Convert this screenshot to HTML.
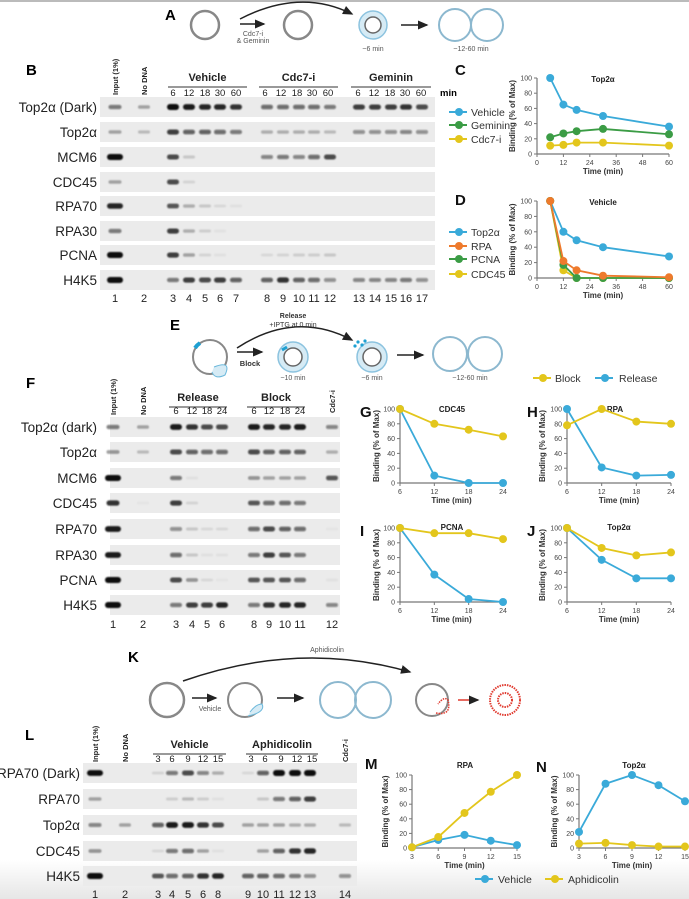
<!DOCTYPE html>
<html><head><meta charset="utf-8"><style>
html,body{margin:0;padding:0;background:#fff;}
svg{display:block;font-family:"Liberation Sans",Arial,sans-serif;}
</style></head><body>
<svg id="fig" width="689" height="899" viewBox="0 0 689 899" xmlns="http://www.w3.org/2000/svg">
<defs>
<linearGradient id="bot" x1="0" y1="0" x2="0" y2="1"><stop offset="0" stop-color="#fff"/><stop offset="1" stop-color="#e6e6e6"/></linearGradient>
<marker id="ah" markerWidth="8" markerHeight="8" refX="6" refY="3" orient="auto"><path d="M0,0 L7,3 L0,6 z" fill="#222"/></marker>
<filter id="blur" x="-20%" y="-100%" width="140%" height="300%"><feGaussianBlur stdDeviation="0.7"/></filter>
</defs>
<rect x="0" y="0" width="689" height="2" fill="#bbb"/>
<rect x="0" y="860" width="689" height="39" fill="url(#bot)"/>
<g id="diagrams">
<text x="165" y="20" font-size="15" font-weight="bold">A</text>
<circle cx="205" cy="25" r="14" fill="none" stroke="#888" stroke-width="2.5"/>
<line x1="240" y1="24" x2="264" y2="24" stroke="#222" stroke-width="1.5" marker-end="url(#ah)"/>
<text x="253" y="36" font-size="7" fill="#555" text-anchor="middle">Cdc7-i</text>
<text x="253" y="43" font-size="7" fill="#555" text-anchor="middle">&amp; Geminin</text>
<circle cx="298" cy="25" r="14" fill="none" stroke="#888" stroke-width="2.5"/>
<path d="M240,19 Q300,-12 352,14" fill="none" stroke="#222" stroke-width="1.5" marker-end="url(#ah)"/>
<circle cx="373" cy="25" r="14" fill="#d6ebf5" stroke="#8cc3df" stroke-width="1.5"/>
<circle cx="373" cy="25" r="8" fill="#fff" stroke="#666" stroke-width="1.5"/>
<text x="373" y="51" font-size="7" fill="#555" text-anchor="middle">~6 min</text>
<line x1="401" y1="25" x2="427" y2="25" stroke="#222" stroke-width="1.5" marker-end="url(#ah)"/>
<circle cx="455" cy="25" r="16" fill="none" stroke="#8cb8cf" stroke-width="2"/>
<circle cx="487" cy="25" r="16" fill="none" stroke="#8cb8cf" stroke-width="2"/>
<text x="471" y="51" font-size="7" fill="#555" text-anchor="middle">~12-60 min</text>
<text x="170" y="330" font-size="15" font-weight="bold">E</text>
<circle cx="210" cy="357" r="17" fill="none" stroke="#888" stroke-width="2"/>
<path d="M195,348 A17,17 0 0 1 200,343" stroke="#1ea0d2" stroke-width="4" fill="none"/>
<path d="M214,367 Q232,360 225,375 Q215,380 212,372" fill="#d6ebf5" stroke="#6bb8db" stroke-width="1"/>
<line x1="237" y1="352" x2="262" y2="352" stroke="#222" stroke-width="1.5" marker-end="url(#ah)"/>
<text x="250" y="366" font-size="7.5" font-weight="bold" fill="#333" text-anchor="middle">Block</text>
<circle cx="293" cy="357" r="15" fill="#d6ebf5" stroke="#8cc3df" stroke-width="1.5"/>
<circle cx="293" cy="357" r="9" fill="#fff" stroke="#666" stroke-width="1.5"/>
<path d="M282,350 L287,347" stroke="#1ea0d2" stroke-width="3"/>
<text x="293" y="380" font-size="7" fill="#555" text-anchor="middle">~10 min</text>
<path d="M237,348 Q295,310 352,340" fill="none" stroke="#222" stroke-width="1.5" marker-end="url(#ah)"/>
<text x="293" y="318" font-size="7" font-weight="bold" fill="#333" text-anchor="middle">Release</text>
<text x="293" y="327" font-size="7" fill="#333" text-anchor="middle">+IPTG at 0 min</text>
<circle cx="372" cy="357" r="15" fill="#d6ebf5" stroke="#8cc3df" stroke-width="1.5"/>
<circle cx="372" cy="357" r="9" fill="#fff" stroke="#666" stroke-width="1.5"/>
<circle cx="358" cy="342" r="1.6" fill="#1ea0d2"/><circle cx="362" cy="345" r="1.6" fill="#1ea0d2"/><circle cx="355" cy="346" r="1.6" fill="#1ea0d2"/><circle cx="365" cy="341" r="1.6" fill="#1ea0d2"/>
<text x="372" y="380" font-size="7" fill="#555" text-anchor="middle">~6 min</text>
<line x1="397" y1="355" x2="423" y2="355" stroke="#222" stroke-width="1.5" marker-end="url(#ah)"/>
<circle cx="450" cy="354" r="17" fill="none" stroke="#8cb8cf" stroke-width="2"/>
<circle cx="485" cy="354" r="17" fill="none" stroke="#8cb8cf" stroke-width="2"/>
<text x="470" y="380" font-size="7" fill="#555" text-anchor="middle">~12-60 min</text>
<text x="128" y="662" font-size="15" font-weight="bold">K</text>
<circle cx="167" cy="700" r="17" fill="none" stroke="#888" stroke-width="2.5"/>
<line x1="192" y1="698" x2="216" y2="698" stroke="#222" stroke-width="1.5" marker-end="url(#ah)"/>
<text x="210" y="711" font-size="7" fill="#555" text-anchor="middle">Vehicle</text>
<circle cx="245" cy="700" r="17" fill="none" stroke="#888" stroke-width="2"/>
<path d="M248,716 Q266,712 262,704 Q256,704 250,712" fill="#d6ebf5" stroke="#6bb8db" stroke-width="1"/>
<line x1="277" y1="698" x2="303" y2="698" stroke="#222" stroke-width="1.5" marker-end="url(#ah)"/>
<circle cx="338" cy="700" r="18" fill="none" stroke="#8cb8cf" stroke-width="2"/>
<circle cx="373" cy="700" r="18" fill="none" stroke="#8cb8cf" stroke-width="2"/>
<path d="M183,681 Q300,640 410,672" fill="none" stroke="#222" stroke-width="1.5" marker-end="url(#ah)"/>
<text x="327" y="652" font-size="7" fill="#555" text-anchor="middle">Aphidicolin</text>
<circle cx="432" cy="700" r="16" fill="none" stroke="#888" stroke-width="2"/>
<path d="M436,713 Q452,716 448,700 Q444,696 438,704" fill="none" stroke="#e03a2f" stroke-width="1.5" stroke-dasharray="1.5,1"/>
<line x1="458" y1="700" x2="478" y2="700" stroke="#e03a2f" stroke-width="1.5" marker-end="url(#ah)"/>
<circle cx="505" cy="700" r="15" fill="none" stroke="#e03a2f" stroke-width="2" stroke-dasharray="1.5,1"/>
<circle cx="505" cy="700" r="7" fill="none" stroke="#e03a2f" stroke-width="2" stroke-dasharray="1.5,1"/>
</g>
<g id="blots"></g>
<g id="charts"></g>
</svg>
<script>
var timesC = [6,12,18,30,60];
var cVehicle = [100,65,58,50,36];
var cGeminin = [22,27,30,33,26];
var cCdc7 = [11,12,15,15,11];
var dTop2a = [100,60,49,40,28];
var dRPA = [100,22,10,3,1];
var dPCNA = [100,17,0,0,0];
var dCDC45 = [100,10,0,0,0];
var ticksC = [0,12,24,36,48,60];
var timesG = [6,12,18,24];
var gBlock = [100,80,72,63];
var gRelease = [100,10,0,0];
var hBlock = [78,100,83,80];
var hRelease = [100,21,10,11];
var iBlock = [100,93,93,85];
var iRelease = [100,37,4,0];
var jBlock = [100,73,63,67];
var jRelease = [100,57,32,32];
var timesM = [3,6,9,12,15];
var mVehicle = [1,11,18,10,4];
var mAphidicolin = [1,15,48,77,100];
var nVehicle = [22,88,100,86,64];
var nAphidicolin = [6,7,4,2,2];
var yTicks = [0,20,40,60,80,100];

var bLanes = [1,2,3,4,5,6,7,8,9,10,11,12,13,14,15,16,17];
var bTop2aDark = [.5,.3,1,.9,.85,.85,.8,.55,.55,.55,.55,.5,.75,.75,.75,.8,.7];
var bTop2a = [.3,.2,.75,.6,.6,.55,.5,.25,.25,.25,.25,.2,.4,.4,.4,.45,.4];
var bMCM6 = [1,0,.7,.15,0,0,0,.45,.5,.45,.55,.7,0,0,0,0,0];
var bCDC45 = [.3,0,.7,.1,0,0,0,0,0,0,0,0,0,0,0,0,0];
var bRPA70 = [.85,0,.65,.25,.15,.08,.05,0,0,0,0,0,0,0,0,0,0];
var bRPA30 = [.5,0,.75,.25,.12,.04,0,0,0,0,0,0,0,0,0,0,0];
var bPCNA = [1,0,.75,.3,.1,.05,0,.08,.1,.12,.12,.15,0,0,0,0,0];
var bH4K5 = [1,0,.5,.75,.7,.75,.6,.6,.8,.6,.55,.4,.45,.45,.45,.5,.4];
var fLanes = [1,2,3,4,5,6,8,9,10,11,12];
var fTop2aDark = [.5,.3,.9,.8,.7,.7,.9,.85,.85,.9,.45];
var fTop2a = [.35,.2,.7,.6,.55,.55,.7,.6,.6,.6,.25];
var fMCM6 = [1,0,.5,.05,0,0,.35,.3,.3,.3,.65];
var fCDC45 = [.8,.03,.75,.1,0,0,.65,.55,.55,.5,0];
var fRPA70 = [.9,0,.4,.15,.08,.08,.55,.7,.6,.55,.03];
var fRPA30 = [.9,0,.55,.15,.05,.05,.5,.75,.65,.5,0];
var fPCNA = [1,0,.7,.35,.08,.03,.65,.65,.65,.55,.04];
var fH4K5 = [1,0,.5,.75,.75,.85,.5,.8,.85,.85,.45];
var lLanes = [1,2,3,4,5,6,8,9,10,11,12,13,14];
var lRPA70Dark = [.95,0,.1,.5,.7,.45,.25,.08,.6,1,1,1,0];
var lRPA70 = [.3,0,0,.12,.2,.12,.05,0,.15,.5,.6,.75,0];
var lTop2a = [.45,.3,.6,.9,.9,.8,.7,.3,.3,.3,.25,.25,.2];
var lCDC45 = [.35,0,.08,.5,.55,.3,.05,0,.3,.6,.8,.85,0];
var lH4K5 = [1,0,.65,.55,.6,.8,.85,.6,.6,.55,.5,.4,.4];

var NS="http://www.w3.org/2000/svg";
function mk(parent,tag,attrs,txt){var e=document.createElementNS(NS,tag);for(var k in attrs)e.setAttribute(k,attrs[k]);if(txt!==undefined)e.textContent=txt;parent.appendChild(e);return e;}
var BL=document.getElementById('blots');
var CH=document.getElementById('charts');

function blot(cfg){
  var g=mk(BL,'g',{});
  
  
  cfg.rows.forEach(function(r,ri){
    var cy=cfg.rowY[ri];
    var bg=mk(g,'rect',{x:cfg.x0,y:cy-10,width:cfg.x1-cfg.x0,height:20,fill:'#ebebeb'});
    
    
    var lab=mk(g,'text',{x:cfg.labX,y:cy+5,'font-size':13.5,'text-anchor':'end',fill:'#222'},r.label);
    
    
    r.vals.forEach(function(v,li){
      if(v<=0.01)return;
      var lx=cfg.laneX(cfg.lanes[li]);
      var w=(cfg.lanes[li]===1)?(v>0.8?16:13):12, h=2.5+v*3.5;
      var b=mk(g,'rect',{x:lx-w/2,y:cy-h/2,width:w,height:h,rx:h/2,fill:'#111','fill-opacity':Math.min(1,v*1.05),filter:'url(#blur)'});
      
      
    });
  });
  cfg.lanes.forEach(function(l){
    var t=mk(g,'text',{x:cfg.laneX(l),y:cfg.numY,'font-size':11,'text-anchor':'middle',fill:'#222'},l);
    
    
  });
}
function vtext(x,y,s,size){var t=mk(BL,'text',{x:x,y:y,'font-size':size||7.5,'font-weight':'bold',transform:'rotate(-90 '+x+' '+y+')',fill:'#222'},s);
  
  }
function group(label,x1,x2,yl,times,xs,yt){
  var t=mk(BL,'text',{x:(x1+x2)/2,y:yl,'font-size':11,'font-weight':'bold','text-anchor':'middle',fill:'#222'},label);
  
  
  mk(BL,'line',{x1:x1,y1:yl+6,x2:x2,y2:yl+6,stroke:'#333','stroke-width':1});
  times.forEach(function(s,i){var tt=mk(BL,'text',{x:xs[i],y:yt,'font-size':9.5,'text-anchor':'middle',fill:'#222'},s);
    
    });
}
var bX={1:115,2:144,3:173,4:189,5:205,6:220,7:236,8:267,9:283,10:299,11:314,12:330,13:359,14:375,15:391,16:406,17:422};
mk(BL,'text',{x:26,y:75,'font-size':15,'font-weight':'bold'},'B');
blot({name:'blot-b',x0:100,x1:435,labX:97,rowY:[107,132,157,182,206,231,255,280],numY:302,lanes:bLanes,laneX:function(l){return bX[l];},
 rows:[{label:'Top2α (Dark)',vals:bTop2aDark},{label:'Top2α',vals:bTop2a},{label:'MCM6',vals:bMCM6},{label:'CDC45',vals:bCDC45},{label:'RPA70',vals:bRPA70},{label:'RPA30',vals:bRPA30},{label:'PCNA',vals:bPCNA},{label:'H4K5',vals:bH4K5}]});
vtext(118,95,'Input (1%)');vtext(147,95,'No DNA');
group('Vehicle',168,247,81,['6','12','18','30','60'],[173,189,205,220,236],96);
group('Cdc7-i',259,338,81,['6','12','18','30','60'],[265,281,297,312,328],96);
group('Geminin',351,431,81,['6','12','18','30','60'],[358,374,390,405,421],96);
mk(BL,'text',{x:440,y:96,'font-size':9.5,'font-weight':'bold'},'min');
var fX={1:113,2:143,3:176,4:192,5:207,6:222,8:254,9:269,10:285,11:300,12:332};
mk(BL,'text',{x:26,y:388,'font-size':15,'font-weight':'bold'},'F');
blot({name:'blot-f',x0:110,x1:340,labX:97,rowY:[427,452,478,503,529,555,580,605],numY:628,lanes:fLanes,laneX:function(l){return fX[l];},
 rows:[{label:'Top2α (dark)',vals:fTop2aDark},{label:'Top2α',vals:fTop2a},{label:'MCM6',vals:fMCM6},{label:'CDC45',vals:fCDC45},{label:'RPA70',vals:fRPA70},{label:'RPA30',vals:fRPA30},{label:'PCNA',vals:fPCNA},{label:'H4K5',vals:fH4K5}]});
vtext(116,415,'Input (1%)');vtext(146,415,'No DNA');vtext(335,413,'Cdc7-i');
group('Release',169,227,401,['6','12','18','24'],[176,192,207,222],414);
group('Block',247,305,401,['6','12','18','24'],[254,269,285,300],414);
var lX={1:95,2:125,3:158,4:172,5:188,6:203,8:218,9:248,10:263,11:279,12:295,13:310,14:345};
mk(BL,'text',{x:25,y:740,'font-size':15,'font-weight':'bold'},'L');
blot({name:'blot-l',x0:83,x1:357,labX:80,rowY:[773,799,825,851,876],numY:898,lanes:lLanes,laneX:function(l){return lX[l];},
 rows:[{label:'RPA70 (Dark)',vals:lRPA70Dark},{label:'RPA70',vals:lRPA70},{label:'Top2α',vals:lTop2a},{label:'CDC45',vals:lCDC45},{label:'H4K5',vals:lH4K5}]});
vtext(98,762,'Input (1%)');vtext(128,762,'No DNA');vtext(348,762,'Cdc7-i');
group('Vehicle',153,226,748,['3','6','9','12','15'],[158,172,188,203,218],762);
group('Aphidicolin',246,318,748,['3','6','9','12','15'],[251,265,281,297,312],762);

var BLUE='#3aaad9',GREEN='#3b9c45',YEL='#e3c61c',ORG='#ee7a2c';
function chart(c){
  var g=mk(CH,'g',{});
  
  
  var sx=function(v){return c.px0+(v-c.xmin)/(c.xmax-c.xmin)*(c.px1-c.px0);};
  var sy=function(v){return c.py0-(v/100)*(c.py0-c.py1);};
  mk(g,'line',{x1:c.px0,y1:c.py0,x2:c.px0,y2:c.py1,stroke:'#777','stroke-width':1.2});
  mk(g,'line',{x1:c.px0,y1:c.py0,x2:c.px1,y2:c.py0,stroke:'#777','stroke-width':1.2});
  yTicks.forEach(function(t){
    mk(g,'line',{x1:c.px0-3,y1:sy(t),x2:c.px0,y2:sy(t),stroke:'#777'});
    var tl=mk(g,'text',{x:c.px0-5,y:sy(t)+2.5,'font-size':7,'text-anchor':'end',fill:'#444'},t);
    
    
  });
  c.xticks.forEach(function(t){
    mk(g,'line',{x1:sx(t),y1:c.py0,x2:sx(t),y2:c.py0+3,stroke:'#777'});
    var tl=mk(g,'text',{x:sx(t),y:c.py0+11,'font-size':7,'text-anchor':'middle',fill:'#444'},t);
    
    
  });
  var xt=mk(g,'text',{x:(c.px0+c.px1)/2,y:c.py0+20,'font-size':8,'font-weight':'bold','text-anchor':'middle',fill:'#333'},'Time (min)');
  
  
  var yx=c.ylx, yy=(c.py0+c.py1)/2;
  var yt=mk(g,'text',{x:yx,y:yy,'font-size':8,'font-weight':'bold','text-anchor':'middle',fill:'#333',transform:'rotate(-90 '+yx+' '+yy+')'},'Binding (% of Max)');
  
  
  var ti=mk(g,'text',{x:c.tx,y:c.ty,'font-size':8,'font-weight':'bold','text-anchor':'middle',fill:'#222'},c.title);
  
  
  var le=mk(g,'text',{x:c.lx,y:c.ly,'font-size':15,'font-weight':'bold',fill:'#111'},c.letter);
  
  
  c.series.forEach(function(s){
    var d=s.vals.map(function(v,i){return (i?'L':'M')+sx(c.xs[i])+','+sy(v);}).join(' ');
    var p=mk(g,'path',{d:d,fill:'none',stroke:s.color,'stroke-width':1.8});
    
    
    s.vals.forEach(function(v,i){
      var pt=mk(g,'circle',{cx:sx(c.xs[i]),cy:sy(v),r:4,fill:s.color});
      
      
    });
  });
}
function legend(x,y,color,label,dx){
  var g=mk(CH,'g',{});
  
  
  mk(g,'line',{x1:x,y1:y,x2:x+18,y2:y,stroke:color,'stroke-width':2});
  mk(g,'circle',{cx:x+10,cy:y,r:4,fill:color});
  mk(g,'text',{x:x+(dx||22),y:y+4,'font-size':10.5,fill:'#333'},label);
}
chart({name:'chart-c',letter:'C',lx:455,ly:75,title:'Top2α',tx:603,ty:82,xs:timesC,xmin:0,xmax:60,xticks:ticksC,px0:537,px1:669,py0:154,py1:78,ylx:515,
  series:[{key:'vehicle',color:BLUE,vals:cVehicle},{key:'geminin',color:GREEN,vals:cGeminin},{key:'cdc7i',color:YEL,vals:cCdc7}]});
legend(449,112,BLUE,'Vehicle');legend(449,125,GREEN,'Geminin');legend(449,139,YEL,'Cdc7-i');
chart({name:'chart-d',letter:'D',lx:455,ly:205,title:'Vehicle',tx:603,ty:205,xs:timesC,xmin:0,xmax:60,xticks:ticksC,px0:537,px1:669,py0:278,py1:201,ylx:515,
  series:[{key:'top2a',color:BLUE,vals:dTop2a},{key:'cdc45',color:YEL,vals:dCDC45},{key:'pcna',color:GREEN,vals:dPCNA},{key:'rpa',color:ORG,vals:dRPA}]});
legend(449,232,BLUE,'Top2α');legend(449,246,ORG,'RPA');legend(449,259,GREEN,'PCNA');legend(449,274,YEL,'CDC45');
legend(533,378,YEL,'Block');legend(595,378,BLUE,'Release',24);
chart({name:'chart-g',letter:'G',lx:360,ly:417,title:'CDC45',tx:452,ty:412,xs:timesG,xmin:6,xmax:24,xticks:timesG,px0:400,px1:503,py0:483,py1:409,ylx:379,
  series:[{key:'release',color:BLUE,vals:gRelease},{key:'block',color:YEL,vals:gBlock}]});
chart({name:'chart-h',letter:'H',lx:527,ly:417,title:'RPA',tx:615,ty:412,xs:timesG,xmin:6,xmax:24,xticks:timesG,px0:567,px1:671,py0:483,py1:409,ylx:545,
  series:[{key:'release',color:BLUE,vals:hRelease},{key:'block',color:YEL,vals:hBlock}]});
chart({name:'chart-i',letter:'I',lx:360,ly:536,title:'PCNA',tx:452,ty:530,xs:timesG,xmin:6,xmax:24,xticks:timesG,px0:400,px1:503,py0:602,py1:528,ylx:379,
  series:[{key:'release',color:BLUE,vals:iRelease},{key:'block',color:YEL,vals:iBlock}]});
chart({name:'chart-j',letter:'J',lx:527,ly:536,title:'Top2α',tx:619,ty:530,xs:timesG,xmin:6,xmax:24,xticks:timesG,px0:567,px1:671,py0:602,py1:528,ylx:545,
  series:[{key:'release',color:BLUE,vals:jRelease},{key:'block',color:YEL,vals:jBlock}]});
chart({name:'chart-m',letter:'M',lx:365,ly:769,title:'RPA',tx:465,ty:768,xs:timesM,xmin:3,xmax:15,xticks:timesM,px0:412,px1:517,py0:848,py1:775,ylx:388,
  series:[{key:'vehicle',color:BLUE,vals:mVehicle},{key:'aphidicolin',color:YEL,vals:mAphidicolin}]});
chart({name:'chart-n',letter:'N',lx:536,ly:772,title:'Top2α',tx:634,ty:768,xs:timesM,xmin:3,xmax:15,xticks:timesM,px0:579,px1:685,py0:848,py1:775,ylx:557,
  series:[{key:'vehicle',color:BLUE,vals:nVehicle},{key:'aphidicolin',color:YEL,vals:nAphidicolin}]});
legend(475,879,BLUE,'Vehicle',23);legend(545,879,YEL,'Aphidicolin',23);
</script>
</body></html>
